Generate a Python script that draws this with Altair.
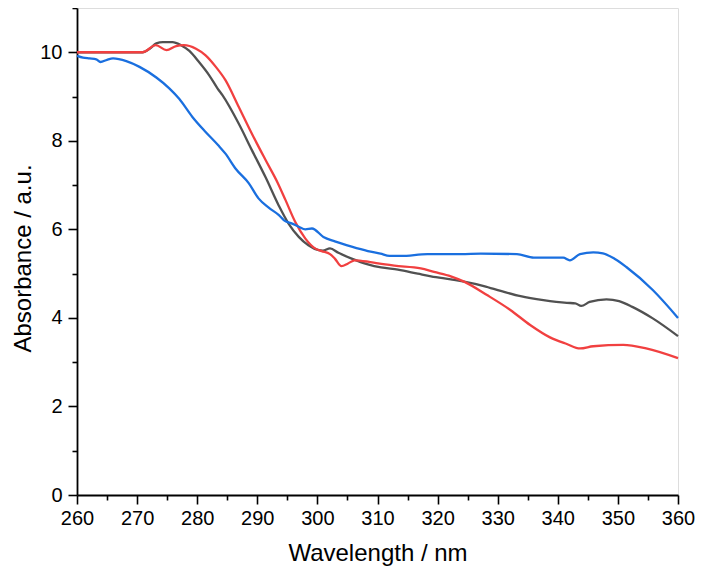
import altair as alt
import pandas as pd

# ---- data ----
black_wl = [260, 270.9, 272.1, 273.2, 274.3, 275.9, 277.3, 278.7, 280.3, 282.0, 283.4, 284.2,
            286.9, 289.1, 291.4, 293.6, 295.2, 296.9, 298.5, 300.2, 300.9, 302.1, 303.5, 305.7,
            308.4, 310.6, 313.4, 316.7, 318.9, 322.2, 324.4, 327.7, 330.5, 333.8, 337.6, 341.5,
            342.9, 343.9, 345.3, 348.1, 350.2, 352.4, 355.8, 360]
black_abs = [10.0, 10.0, 10.08, 10.20, 10.23, 10.23, 10.16, 10.03, 9.78, 9.48, 9.18, 9.03,
             8.39, 7.79, 7.17, 6.53, 6.13, 5.83, 5.64, 5.53, 5.52, 5.57, 5.47, 5.34,
             5.21, 5.14, 5.09, 5.00, 4.94, 4.87, 4.82, 4.72, 4.61, 4.49, 4.40, 4.34,
             4.33, 4.27, 4.36, 4.42, 4.38, 4.25, 3.99, 3.59]

red_wl = [260, 270.9, 273.1, 274.9, 276.5, 277.8, 279.8, 281.4, 283.1, 284.7, 286.9, 289.1,
          291.4, 293.4, 294.7, 296.3, 298.0, 299.6, 300.7, 302.1, 302.9, 304.0, 305.1, 306.2,
          308.4, 310.1, 312.8, 317.2, 319.4, 322.2, 324.4, 328.3, 332.1, 335.4, 338.7, 341.5,
          343.7, 345.9, 350.9, 354.7, 360]
red_abs = [10.0, 10.0, 10.16, 10.05, 10.14, 10.16, 10.08, 9.93, 9.67, 9.37, 8.77, 8.16,
           7.56, 7.05, 6.66, 6.17, 5.79, 5.57, 5.51, 5.44, 5.34, 5.17, 5.23, 5.30,
           5.27, 5.23, 5.18, 5.12, 5.04, 4.94, 4.82, 4.51, 4.18, 3.84, 3.56, 3.41,
           3.31, 3.36, 3.39, 3.31, 3.09]

blue_wl = [260, 261, 262.1, 263.2, 263.9, 265, 266, 268.2, 270.4, 273.2, 275.4, 277.0,
           279.2, 281.4, 283.5, 284.7, 286.4, 288.6, 290.2, 291.9, 293.6, 294.4, 295.8, 296.9,
           298.0, 299.1, 301.0, 302.9, 305.7, 308.4, 310.5, 312.0, 313.9, 318.3, 323.9, 327.2,
           333.2, 336.0, 340.9, 342.0, 343.7, 345.9, 347.5, 349.5, 351.4, 355.8, 360]
blue_abs = [9.92, 9.88, 9.86, 9.84, 9.78, 9.83, 9.86, 9.80, 9.67, 9.43, 9.18, 8.95,
            8.54, 8.20, 7.90, 7.71, 7.37, 7.04, 6.70, 6.49, 6.32, 6.21, 6.13, 6.06,
            6.00, 6.02, 5.83, 5.73, 5.61, 5.51, 5.45, 5.40, 5.40, 5.44, 5.44, 5.45,
            5.44, 5.36, 5.36, 5.30, 5.44, 5.48, 5.46, 5.33, 5.15, 4.63, 4.00]

x_ticks = list(range(260, 361, 5))
y_ticks = list(range(0, 12))

FONT = "Liberation Sans"

x_scale = alt.Scale(domain=[260, 360], nice=False, zero=False)
y_scale = alt.Scale(domain=[0, 11], nice=False)

x_axis = alt.Axis(
    values=x_ticks,
    labelExpr="datum.value % 10 === 0 ? datum.label : ''",
    tickSize={"condition": {"test": "datum.value % 10 === 0", "value": 9}, "value": 5},
    grid=False, domainColor="black", domainWidth=1.8, tickColor="black", tickWidth=1.6,
    labelFont=FONT, labelFontSize=20, labelColor="black", labelPadding=4,
    labelFlush=False, labelOverlap=False,
    title="Wavelength / nm", titleFont=FONT, titleFontSize=24, titleFontWeight="normal",
    titleColor="black", titlePadding=13,
)
y_axis = alt.Axis(
    values=y_ticks,
    labelExpr="datum.value % 2 === 0 ? datum.label : ''",
    tickSize={"condition": {"test": "datum.value % 2 === 0", "value": 9}, "value": 5},
    grid=False, domainColor="black", domainWidth=1.8, tickColor="black", tickWidth=1.6,
    labelFont=FONT, labelFontSize=20, labelColor="black", labelPadding=6,
    labelFlush=False, labelOverlap=False,
    title="Absorbance / a.u.", titleFont=FONT, titleFontSize=24, titleFontWeight="normal",
    titleColor="black", titlePadding=4, titleY=250,
)


def series(wl, ab, color):
    df = pd.DataFrame({"wl": wl, "abs": ab})
    return alt.Chart(df).mark_line(color=color, strokeWidth=2.3, interpolate="monotone").encode(
        x=alt.X("wl:Q", scale=x_scale, axis=x_axis),
        y=alt.Y("abs:Q", scale=y_scale, axis=y_axis),
        order="wl:Q",
    )


chart = alt.layer(
    series(black_wl, black_abs, "#515151"),
    series(red_wl, red_abs, "#F14040"),
    series(blue_wl, blue_abs, "#1A6FDF"),
).properties(
    width=601, height=487,
    autosize=alt.AutoSizeParams(type="none"),
    padding={"left": 69, "top": 0, "right": 18, "bottom": 72},
).configure_view(stroke=None).configure(background="white")

chart.save("out.html", embed_options={"renderer": "svg", "actions": False})
